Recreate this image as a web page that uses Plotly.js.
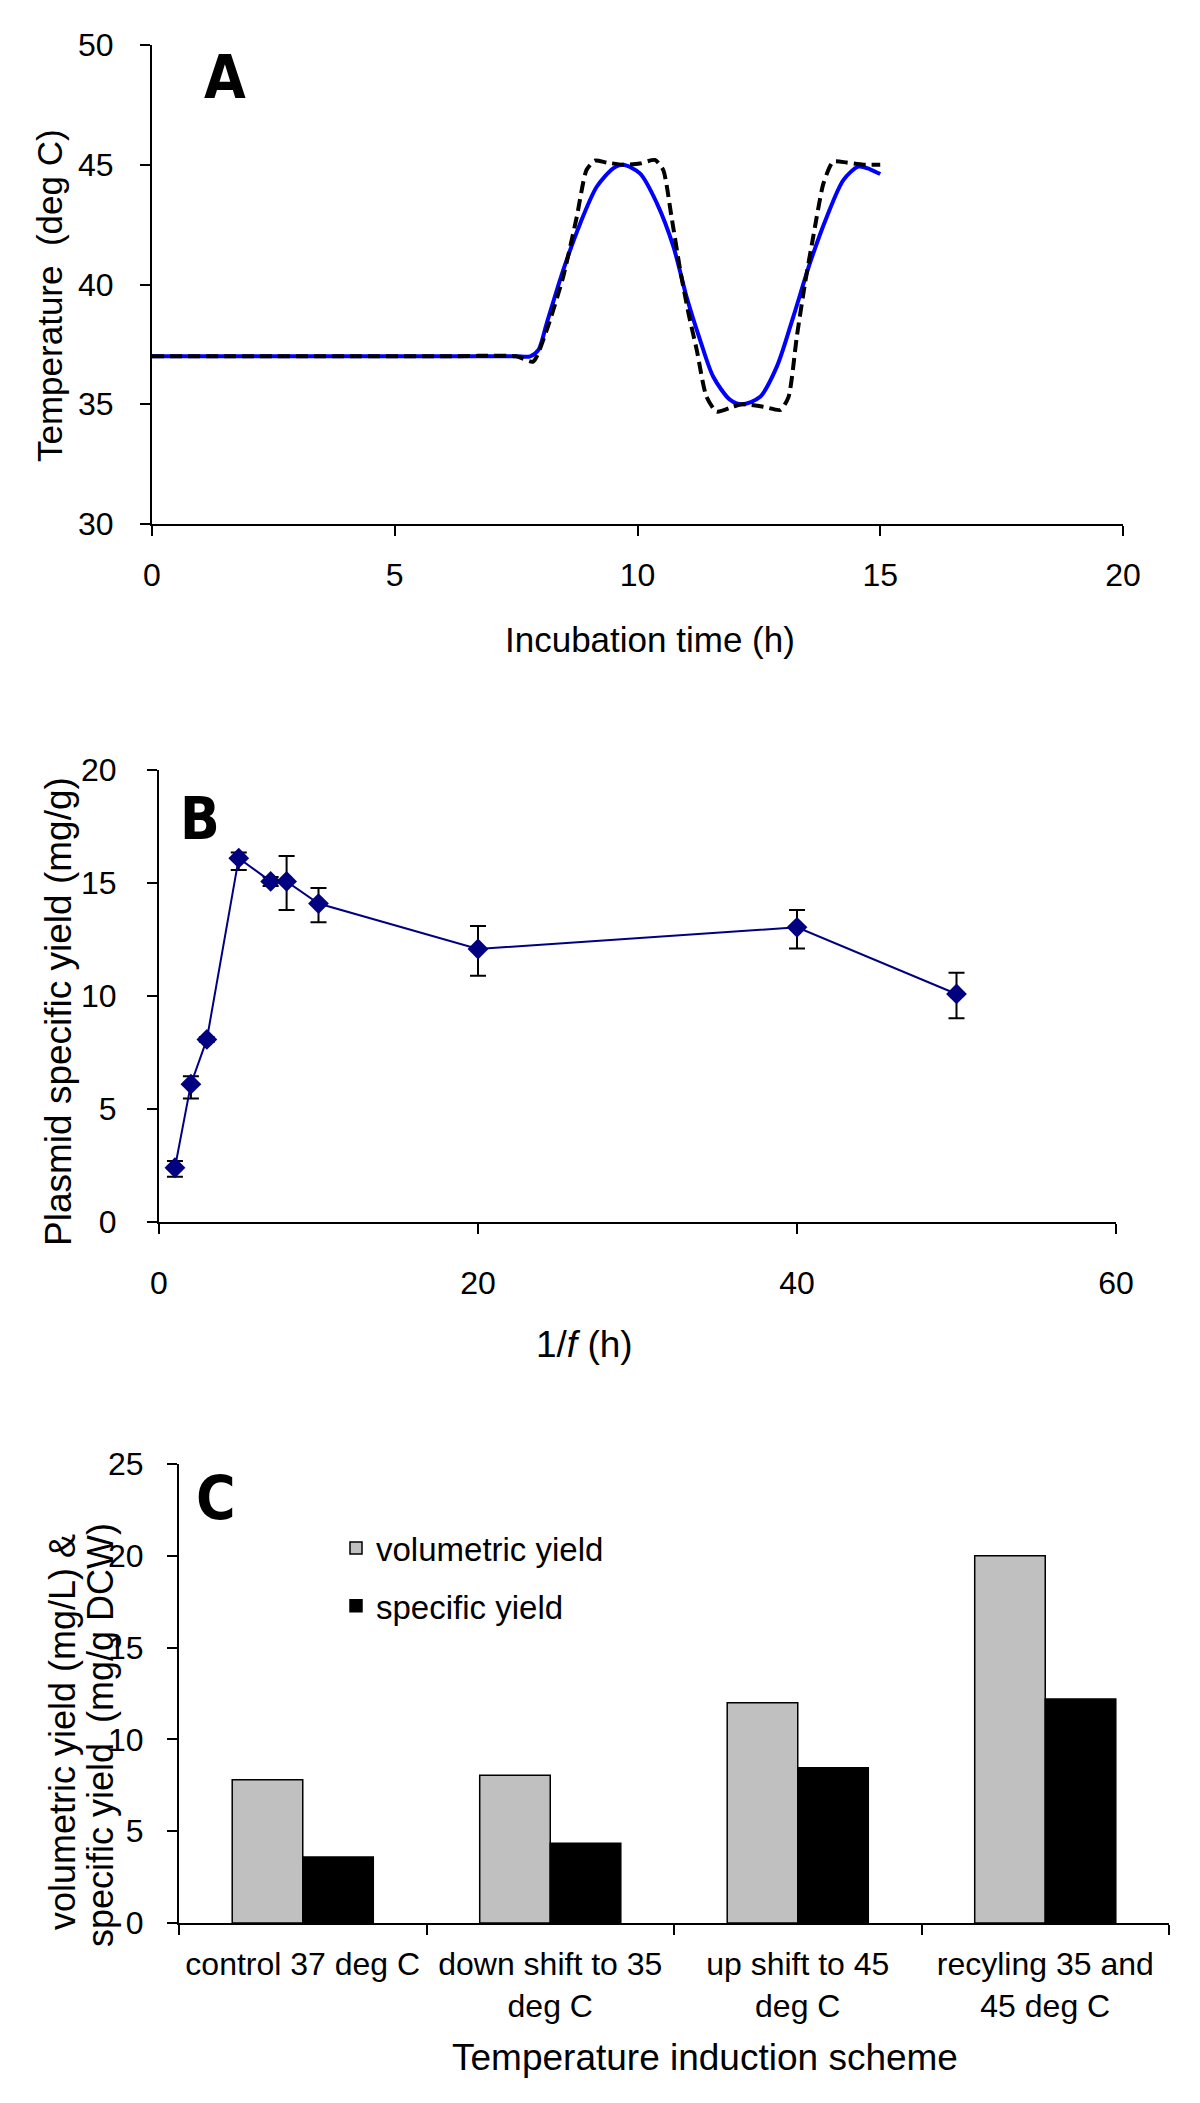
<!DOCTYPE html>
<html>
<head>
<meta charset="utf-8">
<script src="https://cdn.plot.ly/plotly-3.0.1.min.js"></script>
<style>html,body{margin:0;padding:0;background:#fff;}#chart{width:1200px;height:2103px;}</style>
</head>
<body>
<div id="chart"></div>
<script>
// ---------- Panel A: temperature profiles ----------
const timeSet = [0, 2, 4, 6, 7.5, 7.85, 8.13, 8.47, 8.75, 8.95, 9.12, 9.37, 9.7, 10.05, 10.36, 10.53, 10.7, 10.88, 11.05, 11.22, 11.42, 11.63, 11.97, 12.15, 12.59, 12.94, 13.11, 13.28, 13.45, 13.62, 13.83, 14.03, 14.31, 14.65, 15.0];
const tempSet = [37, 37, 37, 37, 37, 36.78, 38.1, 40.33, 42.83, 44.78, 45.17, 45.09, 45.0, 45.05, 45.2, 44.78, 42.83, 40.6, 38.8, 37.27, 35.32, 34.69, 34.9, 35.0, 34.9, 34.76, 35.3, 37.8, 40.05, 42.0, 44.22, 45.13, 45.09, 45.0, 45.0];
const timeMeas = [0, 2, 4, 6, 7.5, 7.79, 7.96, 8.13, 8.47, 8.82, 9.16, 9.5, 9.7, 10.05, 10.4, 10.74, 11.01, 11.29, 11.56, 11.91, 12.15, 12.52, 12.87, 13.21, 13.55, 13.9, 14.24, 14.55, 14.79, 15.0];
const tempMeas = [37, 37, 37, 37, 37, 37.0, 37.27, 38.38, 40.6, 42.55, 44.08, 44.85, 45.0, 44.64, 43.39, 41.58, 39.49, 37.68, 36.15, 35.18, 35.0, 35.3, 36.57, 38.66, 40.88, 42.83, 44.36, 44.92, 44.81, 44.61];

// ---------- Panel B: plasmid specific yield ----------
const invF = [1, 2, 3, 5, 7, 8, 10, 20, 40, 50];
const plasmidYield = [2.4, 6.1, 8.08, 16.1, 15.07, 15.07, 14.09, 12.08, 13.04, 10.09];
const errPlus = [0.3, 0.35, 0.1, 0.25, 0.2, 1.13, 0.69, 1.02, 0.76, 0.94];
const errMinus = [0.4, 0.64, 0.1, 0.53, 0.2, 1.27, 0.83, 1.18, 0.94, 1.07];

// ---------- Panel C: induction schemes ----------
const schemes = ["control 37 deg C", "down shift to 35<br>deg C", "up shift to 45<br>deg C", "recyling 35 and<br>45 deg C"];
const volumetricYield = [7.8, 8.05, 12.0, 20.0];
const specificYield = [3.6, 4.35, 8.45, 12.2];

const W = 1200, H = 2103;
const px = v => v / W;
const py = v => 1 - v / H;
const FONT = "Liberation Sans, Arial, Helvetica, sans-serif";
const BOLDC = "Liberation Sans Narrow, DejaVu Sans Condensed, Arial Narrow, sans-serif";

const traces = [
  {x: timeMeas, y: tempMeas, type: "scatter", mode: "lines", line: {color: "#0000FF", width: 4, shape: "spline", smoothing: 0.8}, xaxis: "x", yaxis: "y", showlegend: false, hoverinfo: "skip"},
  {x: timeSet, y: tempSet, type: "scatter", mode: "lines", line: {color: "#000000", width: 4, dash: "12px,6px", shape: "spline", smoothing: 0.6}, xaxis: "x", yaxis: "y", showlegend: false, hoverinfo: "skip"},
  {x: invF, y: plasmidYield, type: "scatter", mode: "lines+markers",
   line: {color: "#000080", width: 2},
   marker: {symbol: "diamond", size: 16, color: "#000080"},
   error_y: {type: "data", symmetric: false, array: errPlus, arrayminus: errMinus, color: "#000000", thickness: 2, width: 8},
   xaxis: "x2", yaxis: "y2", showlegend: false},
  {x: schemes, y: volumetricYield, type: "bar", name: "volumetric yield", legendgroup: "v", marker: {color: "#C0C0C0", line: {color: "#000000", width: 1.5}}, xaxis: "x3", yaxis: "y3"},
  {x: schemes, y: specificYield, type: "bar", name: "specific yield", legendgroup: "s", marker: {color: "#000000", line: {color: "#000000", width: 1.5}}, xaxis: "x3", yaxis: "y3"}
];

const axBase = {showline: true, linecolor: "#000", linewidth: 2, ticks: "outside", ticklen: 10, tickwidth: 2, tickcolor: "#000", showgrid: false, zeroline: false, tickfont: {family: FONT, size: 32, color: "#000"}, fixedrange: true};

const layout = {
  width: W, height: H,
  margin: {l: 0, r: 0, t: 0, b: 0},
  paper_bgcolor: "#fff", plot_bgcolor: "#fff",
  font: {family: FONT, color: "#000"},
  barmode: "group", bargap: 0.43, bargroupgap: 0,
  showlegend: true,
  legend: {x: px(336), y: py(1520), xanchor: "left", yanchor: "top", traceorder: "grouped", tracegroupgap: 12, font: {family: FONT, size: 33, color: "#000"}, bgcolor: "rgba(0,0,0,0)"},
  xaxis: Object.assign({}, axBase, {domain: [px(152), px(1123)], range: [0, 20], dtick: 5, tick0: 0, anchor: "y", ticklabelstandoff: 12}),
  yaxis: Object.assign({}, axBase, {domain: [py(524), py(45)], range: [30, 50], dtick: 5, tick0: 30, anchor: "x", ticklabelstandoff: 20}),
  xaxis2: Object.assign({}, axBase, {domain: [px(159), px(1116)], range: [0, 60], dtick: 20, tick0: 0, anchor: "y2", ticklabelstandoff: 22}),
  yaxis2: Object.assign({}, axBase, {domain: [py(1222), py(770)], range: [0, 20], dtick: 5, tick0: 0, anchor: "x2", ticklabelstandoff: 24}),
  xaxis3: Object.assign({}, axBase, {domain: [px(179), px(1169)], type: "category", range: [-0.5, 3.5], tickson: "boundaries", anchor: "y3", ticklabelstandoff: 12}),
  yaxis3: Object.assign({}, axBase, {domain: [py(1923), py(1464)], range: [0, 25], dtick: 5, tick0: 0, anchor: "x3", ticklabelstandoff: 17}),
  annotations: [
    {text: "A", x: px(225), y: py(77), xref: "paper", yref: "paper", xanchor: "center", yanchor: "middle", showarrow: false, font: {family: BOLDC, size: 60, weight: 700, color: "#000"}},
    {text: "B", x: px(200), y: py(819), xref: "paper", yref: "paper", xanchor: "center", yanchor: "middle", showarrow: false, font: {family: BOLDC, size: 58, weight: 700, color: "#000"}},
    {text: "C", x: px(216), y: py(1498), xref: "paper", yref: "paper", xanchor: "center", yanchor: "middle", showarrow: false, font: {family: BOLDC, size: 60, weight: 700, color: "#000"}},
    {text: "Temperature  (deg C)", x: px(50), y: py(296), xref: "paper", yref: "paper", xanchor: "center", yanchor: "middle", textangle: -90, showarrow: false, font: {family: FONT, size: 35, color: "#000"}},
    {text: "Incubation time (h)", x: px(650), y: py(639), xref: "paper", yref: "paper", xanchor: "center", yanchor: "middle", showarrow: false, font: {family: FONT, size: 35, color: "#000"}},
    {text: "Plasmid specific yield (mg/g)", x: px(58), y: py(1012), xref: "paper", yref: "paper", xanchor: "center", yanchor: "middle", textangle: -90, showarrow: false, font: {family: FONT, size: 37, color: "#000"}},
    {text: "1/<i>f</i> (h)", x: px(584), y: py(1344), xref: "paper", yref: "paper", xanchor: "center", yanchor: "middle", showarrow: false, font: {family: FONT, size: 37, color: "#000"}},
    {text: "volumetric yield (mg/L) &", x: px(62), y: py(1732), xref: "paper", yref: "paper", xanchor: "center", yanchor: "middle", textangle: -90, showarrow: false, font: {family: FONT, size: 36, color: "#000"}},
    {text: "specific yield  (mg/g DCW)", x: px(100), y: py(1735), xref: "paper", yref: "paper", xanchor: "center", yanchor: "middle", textangle: -90, showarrow: false, font: {family: FONT, size: 36, color: "#000"}},
    {text: "Temperature induction scheme", x: px(705), y: py(2057), xref: "paper", yref: "paper", xanchor: "center", yanchor: "middle", showarrow: false, font: {family: FONT, size: 37, color: "#000"}}
  ]
};

Plotly.newPlot("chart", traces, layout, {displayModeBar: false, staticPlot: true});
</script>
</body>
</html>
